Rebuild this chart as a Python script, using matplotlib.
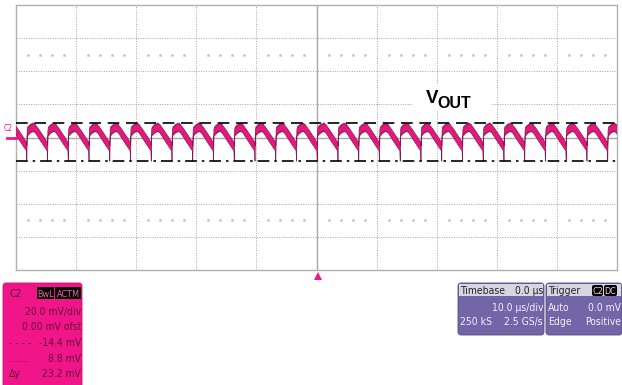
""" recreate the scope capture of the output ripple (VOUT, 20 mV/div, 10 us/div). """
import matplotlib.pyplot as plt
import numpy as np
from matplotlib.patches import FancyBboxPatch, Rectangle, Polygon

# scope settings
time_per_div = 10.0    # us/div
volt_per_div = 20.0    # mV/div
n_xdiv = 10
n_ydiv = 8

# one ripple cycle: phase 0 = bottom of the spike
cycle_phase = [0.0, 0.02, 0.05, 0.08, 0.11, 0.14, 0.17, 0.20, 0.23, 0.26, 0.29, 0.32,
               0.35, 0.38, 0.41, 0.44, 0.47, 0.50, 0.54, 0.58, 0.62, 0.66, 0.70, 0.74,
               0.78, 0.82, 0.86, 0.90, 0.93, 0.96, 0.98]
cycle_upper = [-5.0, 4.8, 6.6, 5.9, 7.4, 6.8, 8.1, 7.3, 8.4, 7.8, 8.9, 8.1,
               8.6, 7.6, 8.0, 7.1, 6.8, 6.2, 5.6, 4.9, 4.1, 3.4, 2.6, 1.9,
               1.1, 0.4, -0.4, -1.2, -1.9, -2.4, -2.9]
cycle_lower = [-14.3, 0.6, 2.0, 1.3, 2.9, 2.1, 3.4, 2.7, 3.9, 3.1, 4.1, 3.4,
               3.8, 2.9, 3.1, 2.2, 1.8, 1.1, 0.4, -0.4, -1.2, -2.0, -2.8, -3.5,
               -4.3, -5.0, -5.8, -6.5, -7.1, -7.6, -8.0]
ripple_period = 3.452  # us
first_spike = -48.2    # us
n_cycles = 30

# cursors (mV)
cursor_hi = 8.8
cursor_lo = -14.4

# readout boxes
ch_lines = ["20.0 mV/div", "0.00 mV ofst", "-14.4 mV", "8.8 mV", "23.2 mV"]
ch_keys = ["", "", "- - - -", ".......", "\u0394y"]
tb_header = ("Timebase", "0.0 \u00b5s")
tb_rows = [("", "10.0 \u00b5s/div"), ("250 kS", "2.5 GS/s")]
trig_header = "Trigger"
trig_rows = [("Auto", "0.0 mV"), ("Edge", "Positive")]

pink = "#F0168A"
trace_face = "#E4197C"
trace_edge = "#8C1452"
grid_col = "#a3a3a3"
narrow = ["Liberation Sans Narrow", "DejaVu Sans Condensed", "DejaVu Sans"]

W, H = 622, 385
fig = plt.figure(figsize=(W / 100, H / 100), dpi=100)

# screen grid
left, right, top, bottom = 16, 617, 5, 270
ax = fig.add_axes([left / W, 1 - bottom / H, (right - left) / W, (bottom - top) / H])
xmax = time_per_div * n_xdiv / 2
ymax = volt_per_div * n_ydiv / 2
ax.set_xlim(-xmax, xmax)
ax.set_ylim(-ymax, ymax)
ax.set_xticks([])
ax.set_yticks([])
for s in ax.spines.values():
    s.set_color("#b0b0b0")
    s.set_linewidth(1.0)

for i in range(1, n_xdiv):
    x = -xmax + i * time_per_div
    if i == n_xdiv // 2:
        ax.axvline(x, color="#a8a8a8", lw=1.0, zorder=1)
    else:
        ax.axvline(x, color=grid_col, lw=0.7, ls=(0, (1, 1.5)), zorder=1)
for j in range(1, n_ydiv):
    y = -ymax + j * volt_per_div
    if j == n_ydiv // 2:
        ax.axhline(y, color="#a8a8a8", lw=1.0, zorder=1)
    else:
        ax.axhline(y, color=grid_col, lw=0.7, ls=(0, (1, 1.5)), zorder=1)

# faint minor dot rows
dots_x = np.arange(-xmax + 2, xmax, 2.0)
dots_x = dots_x[np.abs(np.round(dots_x / time_per_div) * time_per_div - dots_x) > 0.5]
for yy in (2.5 * volt_per_div, -2.5 * volt_per_div):
    ax.plot(dots_x, np.full_like(dots_x, yy), ls="none", marker="s", ms=0.9,
            color="#c4c4c4", zorder=1)

# build the ripple trace from the one-cycle readout
t, up, lo = [], [], []
for k in range(-1, n_cycles):
    for p, u, l in zip(cycle_phase, cycle_upper, cycle_lower):
        t.append(first_spike + (k + p) * ripple_period)
        up.append(u)
        lo.append(l)
t = np.array(t)
up = np.array(up)
lo = np.array(lo)
ax.fill_between(t, lo, up, facecolor=trace_face, edgecolor=trace_edge, lw=0.5, zorder=3)

# cursors
ax.axhline(cursor_hi, color="black", lw=1.2, ls=(0, (7, 4)), zorder=4)
ax.axhline(cursor_lo, color="black", lw=1.2, ls=(0, (7, 3, 1.5, 3)), zorder=4)

# overlay in pixel coordinates for the labels and panels (on top of the grid)
ov = fig.add_axes([0, 0, 1, 1])
ov.set_xlim(0, W)
ov.set_ylim(H, 0)
ov.axis("off")
ov.set_zorder(10)

# VOUT label on white
ov.add_patch(Rectangle((413, 84), 78, 26, facecolor="white", edgecolor="none", zorder=2))
ov.text(426, 103, "V", fontsize=13.5, fontweight="bold", family="Liberation Sans",
        color="black", va="baseline", zorder=5)
ov.text(437, 108, "OUT", fontsize=11.5, fontweight="bold", family="Liberation Sans",
        color="black", va="baseline", zorder=5)

# channel marker and trigger marker
ov.text(4, 131, "C2", fontsize=5.5, color=pink, family=narrow, stretch="condensed",
        va="baseline")
ov.plot([7, 16], [138, 138], color=pink, lw=2)
ov.add_patch(Polygon([(314, 280), (322, 280), (318, 272)], closed=True,
                     facecolor=pink, edgecolor="none"))

# channel readout box
ov.add_patch(FancyBboxPatch((3, 283), 79, 110, boxstyle="round,pad=0,rounding_size=3",
                            facecolor=pink, edgecolor="#c01070", lw=0.6))
txt = dict(fontsize=7.5, family=narrow, stretch="condensed", color="#6a0c3a", va="baseline")
ov.text(9, 297, "C2", **txt)
for x0, x1, lab in [(37, 54, "BwL"), (55, 81, "ACTM")]:
    ov.add_patch(Rectangle((x0, 287), x1 - x0, 12, facecolor="black", edgecolor="none"))
    ov.text((x0 + x1) / 2, 297, lab, fontsize=6.5, family=narrow, stretch="condensed",
            color="#f06aa8", ha="center", va="baseline")
for i, (key, val) in enumerate(zip(ch_keys, ch_lines)):
    yb = 315 + i * 15.5
    ov.text(81, yb, val, ha="right", **txt)
    if key:
        ov.text(9, yb, key, **txt)

# timebase and trigger boxes
box_face = "#7366A8"
head_face = "#D6D6DE"
light = dict(fontsize=7.5, family=narrow, stretch="condensed", color="#f2f0ff", va="baseline")
dark = dict(fontsize=7.5, family=narrow, stretch="condensed", color="#222238", va="baseline")
for x0, x1 in [(458, 544), (546, 622)]:
    ov.add_patch(FancyBboxPatch((x0, 283), x1 - x0, 52,
                                boxstyle="round,pad=0,rounding_size=3",
                                facecolor=box_face, edgecolor="#55497e", lw=0.6))
    ov.add_patch(Rectangle((x0 + 1, 284), x1 - x0 - 2, 12, facecolor=head_face,
                           edgecolor="none"))

ov.text(460, 294, tb_header[0], **dark)
ov.text(543, 294, tb_header[1], ha="right", **dark)
for i, (a, b) in enumerate(tb_rows):
    yb = 311 + i * 14
    if a:
        ov.text(460, yb, a, **light)
    ov.text(543, yb, b, ha="right", **light)

ov.text(548, 294, trig_header, **dark)
for x0, x1, lab in [(592, 603, "C2"), (604, 617, "DC")]:
    ov.add_patch(FancyBboxPatch((x0, 285), x1 - x0, 11, boxstyle="round,pad=0,rounding_size=2",
                                facecolor="black", edgecolor="none"))
    ov.text((x0 + x1) / 2, 294, lab, fontsize=6.5, family=narrow, stretch="condensed",
            color="#ffd0e8", ha="center", va="baseline")
for i, (a, b) in enumerate(trig_rows):
    yb = 311 + i * 14
    ov.text(548, yb, a, **light)
    ov.text(621, yb, b, ha="right", **light)

fig.savefig("out.png", dpi=100)
